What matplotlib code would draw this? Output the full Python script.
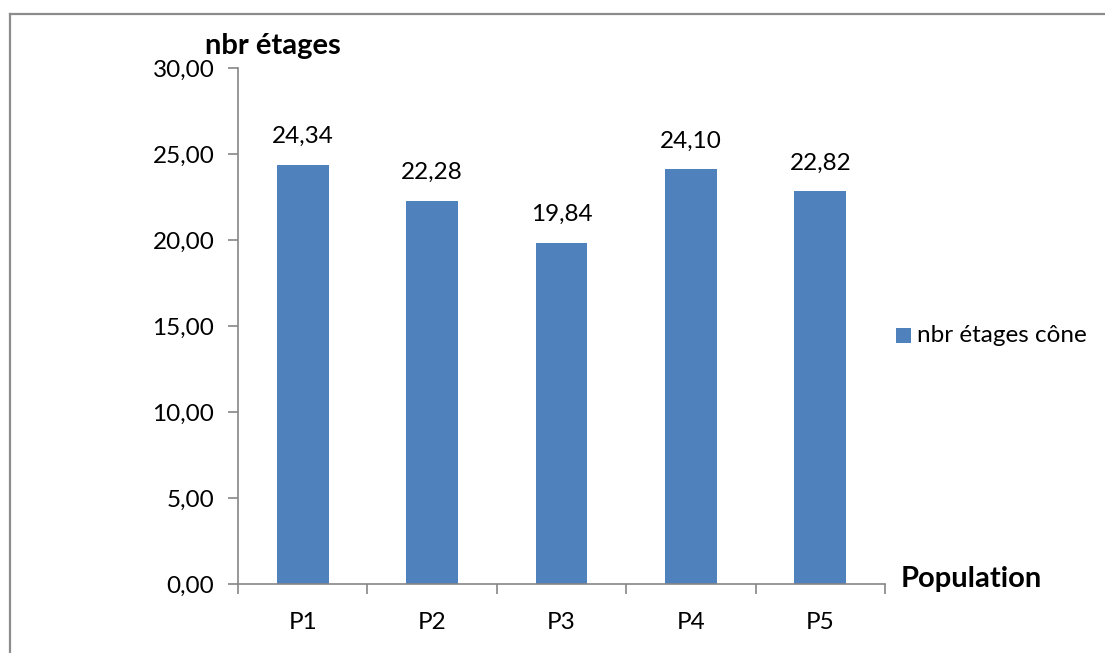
import matplotlib
matplotlib.use("Agg")
import matplotlib.pyplot as plt
from matplotlib.patches import Rectangle
from matplotlib.lines import Line2D

categories = ["P1", "P2", "P3", "P4", "P5"]
values = [24.34, 22.28, 19.84, 24.10, 22.82]
yticks = [0, 5, 10, 15, 20, 25, 30]
series_name = "nbr étages cône"

W, H = 1105, 653
DPI = 100
BAR_COLOR = "#4F81BD"
AXIS_COLOR = "#868686"
FONT = ["Lato", "DejaVu Sans"]
FS = 17.5

def fx(px):
    return px / W

def fy(py):
    return 1 - py / H

fig = plt.figure(figsize=(W / DPI, H / DPI), dpi=DPI)
fig.patch.set_facecolor("white")

# outer chart-area frame (left and top edges visible)
fig.add_artist(Line2D([fx(9.5), fx(9.5)], [fy(13.5), 0], transform=fig.transFigure,
                      color="#8c8c8c", lw=1.6))
fig.add_artist(Line2D([fx(9.5), 1], [fy(13.5), fy(13.5)], transform=fig.transFigure,
                      color="#8c8c8c", lw=1.6))

left, right, top, bottom = 238, 885, 68, 584
ax = fig.add_axes([fx(left), fy(bottom), fx(right - left), (bottom - top) / H])

x = list(range(len(categories)))
bars = ax.bar(x, values, width=0.4, color=BAR_COLOR, zorder=2)

ax.set_xlim(-0.5, len(categories) - 0.5)
ax.set_ylim(0, 30)

for s in ["top", "right"]:
    ax.spines[s].set_visible(False)
for s in ["left", "bottom"]:
    ax.spines[s].set_color(AXIS_COLOR)
    ax.spines[s].set_linewidth(1.2)

ax.set_yticks(yticks)
ax.set_yticklabels([f"{v:.2f}".replace(".", ",") for v in yticks],
                   fontsize=FS, family=FONT)
ax.tick_params(axis="y", direction="out", length=7, width=1.2, color=AXIS_COLOR, pad=10)

# category ticks sit between bars
ax.set_xticks([i - 0.5 for i in range(len(categories) + 1)], minor=False)
ax.set_xticklabels([])
ax.tick_params(axis="x", which="major", direction="out", length=7, width=1.2, color=AXIS_COLOR)
ax.set_xticks(x, minor=True)
ax.set_xticklabels(categories, minor=True, fontsize=FS, family=FONT)
ax.tick_params(axis="x", which="minor", length=0, pad=20)

for b, v in zip(bars, values):
    ax.annotate(f"{v:.2f}".replace(".", ","), (b.get_x() + b.get_width() / 2, v),
                xytext=(0, 13), textcoords="offset points", ha="center", va="bottom",
                fontsize=FS, family=FONT)

fig.text(fx(205), fy(46), "nbr étages", fontsize=21, fontweight="bold",
         family=FONT, ha="left", va="center")
fig.text(fx(901), fy(579), "Population", fontsize=21, fontweight="bold",
         family=FONT, ha="left", va="center")

# legend entry
fig.add_artist(Rectangle((fx(896), fy(343)), fx(15), 15 / H, transform=fig.transFigure,
                         facecolor=BAR_COLOR, edgecolor="none"))
fig.text(fx(917), fy(336), series_name, fontsize=FS, family=FONT,
         ha="left", va="center")

fig.savefig("out.png", dpi=DPI, facecolor="white")
